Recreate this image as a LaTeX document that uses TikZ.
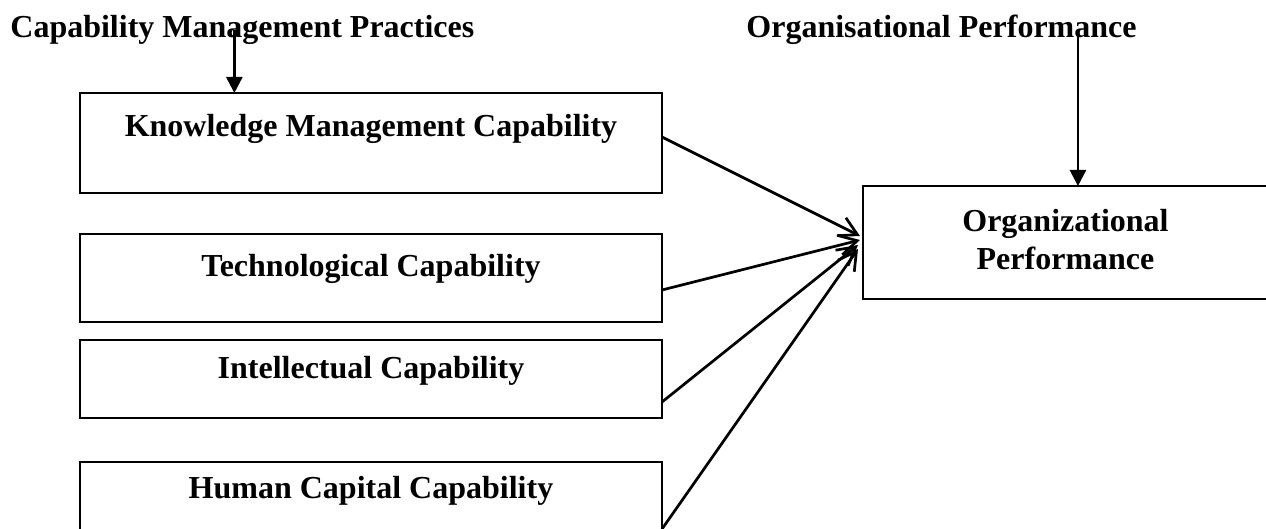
\documentclass[tikz,border=0pt]{standalone}
\usepackage{fontspec}
\setmainfont{Liberation Serif}
\usetikzlibrary{arrows.meta,calc}
\begin{document}
\begin{tikzpicture}[x=0.5pt,y=-0.5pt,
  box/.style={draw=black,line width=1pt,minimum width=291pt,inner sep=0pt,outer sep=0pt},
  lbl/.style={font=\bfseries\fontsize{16}{19}\selectfont,inner sep=0pt,align=center},
  feed/.style={line width=1.35pt,-{Straight Barb[length=9pt,width=10pt,line width=1.35pt]}},
  down/.style={line width=1.3pt,-{Triangle[length=8pt,width=8pt]}}]
\useasboundingbox (0,0) rectangle (1266,529);
\begin{scope}
\clip (0,0) rectangle (1266,529);
% headings
\node[lbl,anchor=base west] (cmp) at (10,38) {Capability Management Practices};
\node[lbl,anchor=base west] (ot) at (746,38) {Organisational Performance};
% capability boxes
\node[box,minimum height=50pt] (km) at (371,143) {};
\node[lbl] (kmt) at (371,129) {Knowledge Management Capability};
\node[box,minimum height=44pt] (tc) at (371,278) {};
\node[lbl] (tct) at (371,269) {Technological Capability};
\node[box,minimum height=39pt] (ic) at (371,379) {};
\node[lbl] (ict) at (371,371) {Intellectual Capability};
\node[box,minimum height=49pt] (hc) at (371,511) {};
\node[lbl] (hct) at (371,491) {Human Capital Capability};
% outcome box
\node[box,minimum width=202.5pt,minimum height=56.5pt] (op) at (1065.5,242.5) {};
\node[lbl] (opt) at (1065.5,240) {Organizational\\Performance};
% links into the outcome
\draw[feed] ([yshift=3pt]km.east) -- ([xshift=-1.5pt,yshift=3.25pt]op.west);
\draw[feed] ([yshift=-6pt]tc.east) -- ([xshift=-1.5pt,yshift=1.25pt]op.west);
\draw[feed] ([yshift=-11.5pt]ic.east) -- ([xshift=-2.5pt,yshift=-1.25pt]op.west);
\draw[feed] ([yshift=-9pt]hc.east) -- ([xshift=-2.5pt,yshift=-3.25pt]op.west);
% headings pointing down
\draw[down] ([xshift=-4pt,yshift=4pt]cmp.base) -- ([xshift=-4pt]cmp.base |- km.north);
\draw[down] ([xshift=68.25pt,yshift=4pt]ot.base) -- ([xshift=68.25pt]ot.base |- op.north);
\end{scope}
\end{tikzpicture}
\end{document}
